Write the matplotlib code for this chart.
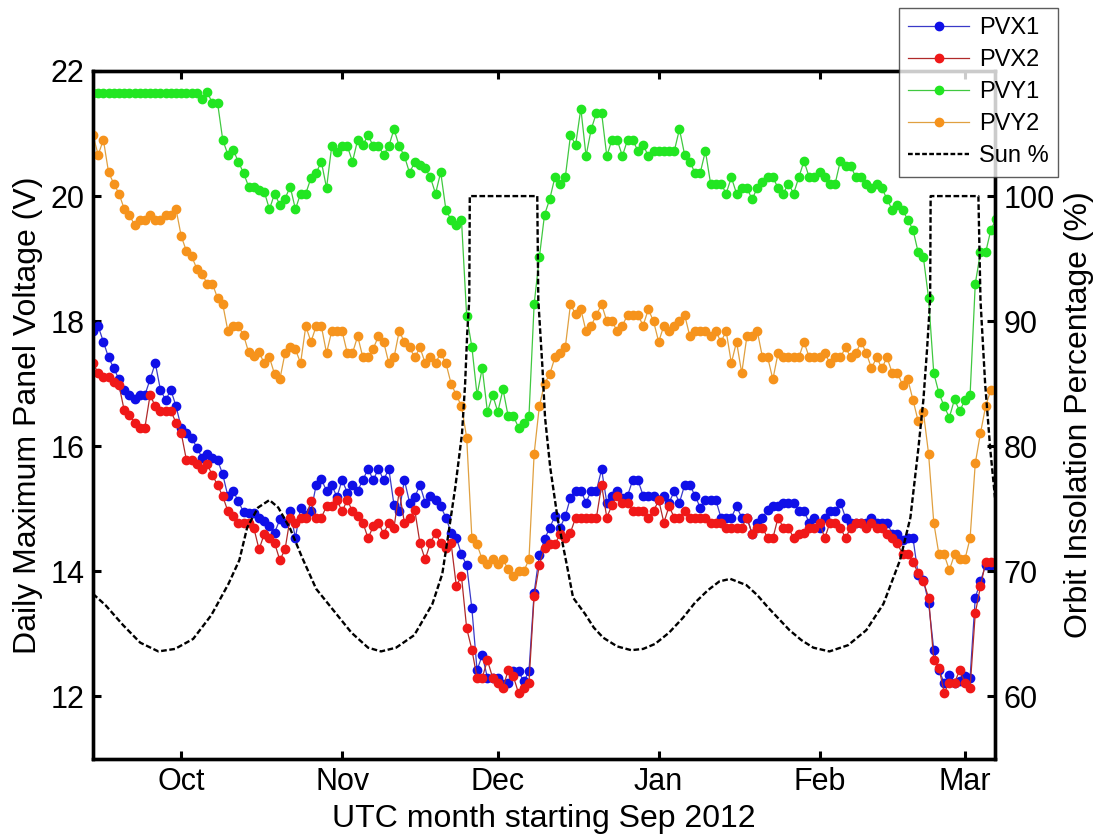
from __future__ import annotations

import matplotlib

matplotlib.use("Agg")
import matplotlib.pyplot as plt
import numpy as np
from matplotlib.lines import Line2D

# day index counted from 2012-09-01 (day 0); one sample per day, Sep 14 .. Mar 7
DAY_FIRST = 13
DAY_LAST = 187

MONTH_DAYS = [30, 61, 91, 122, 153, 181]
MONTH_LABELS = ["Oct", "Nov", "Dec", "Jan", "Feb", "Mar"]

PVX1 = [
    17.84, 17.92, 17.67, 17.42, 17.25, 17.07, 16.90, 16.82, 16.75, 16.82,
    16.82, 17.07, 17.33, 16.90, 16.74, 16.90, 16.64, 16.30, 16.22, 16.14,
    15.98, 15.82, 15.88, 15.82, 15.78, 15.55, 15.20, 15.29, 15.12, 14.95,
    14.94, 14.94, 14.85, 14.80, 14.72, 14.62, 14.83, 14.78, 14.96, 14.53,
    15.02, 14.90, 14.96, 15.38, 15.47, 15.29, 15.38, 15.19, 15.46, 15.26,
    15.38, 15.29, 15.46, 15.64, 15.46, 15.64, 15.46, 15.64, 15.06, 14.96,
    15.46, 15.10, 15.19, 15.38, 15.10, 15.21, 15.14, 15.04, 14.86, 14.62,
    14.54, 14.27, 14.10, 13.41, 12.42, 12.66, 12.30, 12.30, 12.30, 12.20,
    12.22, 12.40, 12.40, 12.24, 12.40, 13.66, 14.26, 14.51, 14.70, 14.88,
    14.70, 14.88, 15.18, 15.29, 15.29, 15.10, 15.29, 15.29, 15.63, 15.10,
    15.21, 15.29, 15.18, 15.21, 15.46, 15.46, 15.21, 15.21, 15.21, 15.14,
    15.21, 15.10, 15.28, 15.10, 15.38, 15.38, 15.21, 15.02, 15.14, 15.14,
    15.14, 14.86, 14.86, 14.86, 15.04, 14.86, 14.86, 14.60, 14.77, 14.86,
    14.98, 15.04, 15.04, 15.10, 15.10, 15.10, 14.96, 14.96, 14.78, 14.86,
    14.70, 14.86, 14.96, 14.96, 15.10, 14.86, 14.78, 14.78, 14.78, 14.78,
    14.86, 14.78, 14.78, 14.78, 14.60, 14.60, 14.50, 14.53, 14.53, 13.94,
    13.86, 13.50, 12.75, 12.42, 12.22, 12.34, 12.22, 12.25, 12.32, 12.30,
    13.58, 13.84, 14.10, 14.10, 14.10,
]

PVX2 = [
    17.33, 17.17, 17.10, 17.10, 17.02, 16.98, 16.58, 16.50, 16.38, 16.30,
    16.30, 16.82, 16.64, 16.56, 16.56, 16.56, 16.38, 16.21, 15.78, 15.78,
    15.71, 15.63, 15.71, 15.54, 15.38, 15.20, 14.96, 14.88, 14.78, 14.78,
    14.78, 14.69, 14.35, 14.60, 14.53, 14.45, 14.18, 14.35, 14.86, 14.78,
    14.86, 14.86, 15.12, 14.86, 14.86, 15.04, 15.04, 15.14, 14.96, 15.14,
    14.96, 14.88, 14.78, 14.53, 14.72, 14.78, 14.60, 14.78, 14.70, 15.28,
    14.78, 14.86, 14.98, 14.45, 14.19, 14.45, 14.62, 14.45, 14.37, 14.45,
    13.77, 13.92, 13.09, 12.75, 12.30, 12.30, 12.58, 12.30, 12.22, 12.14,
    12.42, 12.32, 12.05, 12.14, 12.22, 13.60, 14.10, 14.37, 14.43, 14.43,
    14.60, 14.53, 14.62, 14.86, 14.86, 14.86, 14.86, 14.86, 15.38, 14.86,
    15.06, 15.21, 15.10, 15.10, 14.96, 14.96, 14.96, 14.86, 14.96, 15.14,
    14.78, 15.04, 14.86, 14.86, 14.96, 14.86, 14.86, 14.86, 14.86, 14.78,
    14.78, 14.78, 14.70, 14.70, 14.70, 14.70, 14.86, 14.60, 14.70, 14.70,
    14.53, 14.53, 14.86, 14.70, 14.70, 14.53, 14.60, 14.62, 14.70, 14.70,
    14.78, 14.53, 14.78, 14.78, 14.70, 14.53, 14.70, 14.78, 14.78, 14.70,
    14.78, 14.70, 14.70, 14.60, 14.53, 14.45, 14.27, 14.27, 14.15, 13.97,
    13.84, 13.58, 12.58, 12.46, 12.06, 12.22, 12.22, 12.42, 12.22, 12.14,
    13.33, 13.76, 14.15, 14.15, 14.15,
]

PVY1 = [
    21.65, 21.65, 21.65, 21.65, 21.65, 21.65, 21.65, 21.65, 21.65, 21.65,
    21.65, 21.65, 21.65, 21.65, 21.65, 21.65, 21.65, 21.65, 21.65, 21.65,
    21.65, 21.56, 21.66, 21.49, 21.49, 20.90, 20.66, 20.74, 20.55, 20.37,
    20.15, 20.15, 20.10, 20.07, 19.79, 20.04, 19.86, 19.96, 20.15, 19.79,
    20.04, 20.04, 20.29, 20.37, 20.55, 20.13, 20.80, 20.70, 20.80, 20.80,
    20.55, 20.90, 20.82, 20.97, 20.80, 20.80, 20.66, 20.80, 21.07, 20.80,
    20.64, 20.37, 20.55, 20.50, 20.45, 20.30, 20.04, 20.38, 19.78, 19.62,
    19.54, 19.62, 18.08, 17.59, 16.82, 17.25, 16.55, 16.82, 16.55, 16.91,
    16.48, 16.48, 16.30, 16.37, 16.48, 18.27, 19.02, 19.70, 19.95, 20.30,
    20.20, 20.30, 20.97, 20.82, 21.40, 20.64, 21.07, 21.33, 21.33, 20.64,
    20.90, 20.90, 20.64, 20.90, 20.90, 20.72, 20.82, 20.64, 20.72, 20.72,
    20.72, 20.72, 20.72, 21.07, 20.66, 20.55, 20.37, 20.37, 20.72, 20.20,
    20.20, 20.20, 20.04, 20.30, 20.04, 20.13, 20.13, 19.95, 20.13, 20.22,
    20.30, 20.30, 20.13, 20.04, 20.20, 20.04, 20.30, 20.56, 20.30, 20.30,
    20.38, 20.30, 20.20, 20.20, 20.56, 20.48, 20.48, 20.30, 20.30, 20.20,
    20.13, 20.20, 20.13, 19.95, 19.78, 19.86, 19.78, 19.62, 19.46, 19.10,
    19.02, 18.37, 17.17, 16.85, 16.64, 16.46, 16.75, 16.56, 16.74, 16.82,
    18.60, 19.10, 19.10, 19.46, 19.63,
]

PVY2 = [
    20.97, 20.66, 20.90, 20.38, 20.20, 20.04, 19.80, 19.70, 19.54, 19.62,
    19.62, 19.70, 19.62, 19.62, 19.70, 19.70, 19.79, 19.36, 19.12, 19.04,
    18.84, 18.76, 18.60, 18.60, 18.37, 18.27, 17.84, 17.92, 17.92, 17.78,
    17.50, 17.44, 17.50, 17.33, 17.42, 17.15, 17.07, 17.49, 17.58, 17.55,
    17.33, 17.92, 17.67, 17.92, 17.92, 17.49, 17.84, 17.84, 17.84, 17.49,
    17.49, 17.76, 17.42, 17.42, 17.56, 17.76, 17.67, 17.33, 17.42, 17.84,
    17.67, 17.58, 17.42, 17.58, 17.33, 17.42, 17.33, 17.49, 17.33, 17.00,
    16.82, 16.64, 16.14, 14.54, 14.43, 14.19, 14.11, 14.19, 14.11, 14.19,
    14.03, 13.92, 14.00, 14.00, 14.19, 15.88, 16.64, 17.00, 17.15, 17.42,
    17.49, 17.58, 18.27, 18.11, 18.19, 17.84, 17.93, 18.10, 18.27, 18.00,
    18.00, 17.84, 17.93, 18.10, 18.10, 18.10, 17.93, 18.19, 18.00, 17.67,
    17.93, 17.84, 17.93, 18.00, 18.10, 17.76, 17.84, 17.84, 17.84, 17.76,
    17.84, 17.67, 17.84, 17.33, 17.67, 17.17, 17.76, 17.76, 17.84, 17.42,
    17.42, 17.07, 17.49, 17.42, 17.42, 17.42, 17.42, 17.67, 17.42, 17.42,
    17.42, 17.49, 17.33, 17.42, 17.42, 17.58, 17.42, 17.49, 17.67, 17.49,
    17.25, 17.42, 17.25, 17.42, 17.17, 17.17, 16.98, 17.07, 16.74, 16.40,
    16.55, 15.88, 14.78, 14.27, 14.27, 14.02, 14.27, 14.19, 14.19, 14.53,
    15.73, 16.21, 16.64, 16.90, 16.90,
]

# sunlit fraction of the orbit
SUN_DAY = [
    13.0, 15.4, 18.8, 22.1, 25.6, 28.8, 32.3, 35.8, 39.1, 41.2,
    42.7, 44.8, 47.0, 48.7, 51.0, 53.3, 56.0, 59.3, 62.8, 66.0,
    68.5, 71.4, 74.9, 78.4, 80.3, 81.3, 82.8, 84.1, 84.7, 85.1,
    85.5, 85.6, 98.6, 98.8, 99.6, 100.1, 101.1, 102.5, 104.4, 105.5,
    107.8, 109.5, 111.3, 114.0, 116.7, 119.0, 121.3, 124.0, 126.7, 129.0,
    131.5, 133.7, 135.8, 138.9, 141.0, 143.1, 147.2, 149.5, 151.8, 154.9,
    158.5, 162.0, 165.3, 168.5, 170.5, 172.0, 173.0, 173.7, 174.3, 174.4,
    183.6, 184.0, 184.9, 185.9, 186.8,
]
SUN_PCT = [
    68.2, 67.3, 65.7, 64.3, 63.6, 63.8, 64.6, 66.5, 69.0, 70.9,
    73.5, 75.1, 75.7, 75.1, 73.4, 71.1, 68.6, 66.9, 65.1, 63.9,
    63.6, 63.9, 64.9, 67.4, 69.8, 72.5, 76.7, 81.0, 85.0, 89.0,
    91.7, 100.0, 100.0, 91.7, 86.3, 82.3, 78.3, 74.3, 70.3, 67.9,
    66.6, 65.5, 64.7, 64.0, 63.7, 63.8, 64.2, 65.1, 66.3, 67.5,
    68.5, 69.2, 69.4, 68.9, 68.1, 67.1, 65.3, 64.5, 63.9, 63.6,
    64.1, 65.3, 67.4, 70.9, 74.3, 79.7, 83.7, 87.7, 91.7, 100.0,
    100.0, 91.7, 85.0, 79.7, 75.9,
]

SERIES = [
    ("PVX1", PVX1, "#0f0fe8", "#3a3ac8"),
    ("PVX2", PVX2, "#f01818", "#b02a2a"),
    ("PVY1", PVY1, "#22e622", "#40c840"),
    ("PVY2", PVY2, "#f6931c", "#e0a040"),
]

FONT = ["Liberation Sans", "DejaVu Sans"]


def style_axis(ax, side: str) -> None:
    for spine in ax.spines.values():
        spine.set_linewidth(2.4)
    ax.tick_params(axis="both", direction="in", length=5.5, width=2.2, labelsize=22, pad=6)
    if side == "left":
        ax.tick_params(axis="y", left=True, right=False)
        ax.tick_params(axis="x", top=True, bottom=True)
    else:
        ax.tick_params(axis="y", left=False, right=True, labelright=True, labelleft=False)


def main() -> int:
    plt.rcParams["font.family"] = FONT
    day = np.arange(DAY_FIRST, DAY_LAST + 1)

    fig = plt.figure(figsize=(11.02, 8.35), dpi=100)
    ax = fig.add_axes([93 / 1102, 1 - 759 / 835, 902 / 1102, 688 / 835])
    ax2 = ax.twinx()

    handles = []
    for name, values, face, line in SERIES:
        ax.plot(day, values, color=line, linewidth=0.9, marker="o", markersize=6.0,
                markerfacecolor=face, markeredgecolor=face, zorder=3)
        handles.append(Line2D([], [], color=line, linewidth=0.9, marker="o", markersize=6.0,
                              markerfacecolor=face, markeredgecolor=face, label=name))

    ax2.plot(SUN_DAY, SUN_PCT, color="black", linewidth=1.7, linestyle=(0, (2.4, 1.1)))
    handles.append(Line2D([], [], color="black", linewidth=1.7, linestyle=(0, (2.0, 1.0)), label="Sun %"))

    ax.set_xlim(13.0, 186.8)
    ax.set_ylim(11, 22)
    ax.set_yticks([12, 14, 16, 18, 20, 22])
    ax.set_xticks(MONTH_DAYS)
    ax.set_xticklabels(MONTH_LABELS)
    ax2.set_ylim(55, 110)
    ax2.set_yticks([60, 70, 80, 90, 100])

    style_axis(ax, "left")
    style_axis(ax2, "right")

    ax.set_xlabel("UTC month starting Sep 2012", fontsize=23)
    ax.set_ylabel("Daily Maximum Panel Voltage (V)", fontsize=23)
    ax2.set_ylabel("Orbit Insolation Percentage (%)", fontsize=23)
    ax.xaxis.set_label_coords(0.5, -0.066)
    ax.yaxis.set_label_coords(-0.055, 0.5)
    ax2.yaxis.set_label_coords(1.077, 0.5)

    leg = fig.legend(handles=handles, loc="upper right", bbox_to_anchor=(1058 / 1102, 1 - 8 / 835),
                     fontsize=17, frameon=True, fancybox=False, handlelength=2.6,
                     handletextpad=0.4, labelspacing=0.42, borderpad=0.4, borderaxespad=0.0)
    leg.get_frame().set_edgecolor("#333333")
    leg.get_frame().set_linewidth(1.0)

    fig.savefig("out.png", dpi=100)
    plt.close(fig)
    return 0


if __name__ == "__main__":
    raise SystemExit(main())
